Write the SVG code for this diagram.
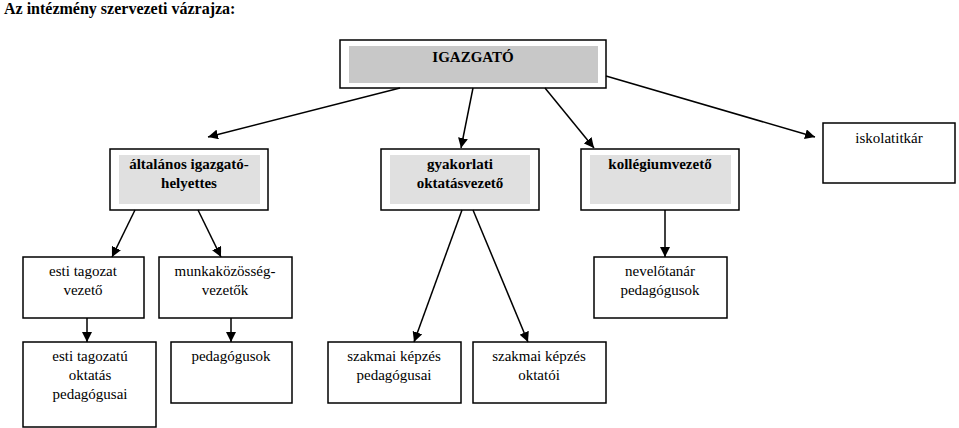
<svg xmlns="http://www.w3.org/2000/svg" width="959" height="428" viewBox="0 0 959 428">
<defs>
<marker id="ah" viewBox="0 0 10 10" refX="10" refY="5" markerWidth="10" markerHeight="10" markerUnits="userSpaceOnUse" orient="auto"><path d="M0,0 L10,5 L0,10 z" fill="#000"/></marker>
<style>
.b{fill:#fff;stroke:#000;stroke-width:1.5}
.g1{fill:#c8c8c8}
.g2{fill:#e0e0e0}
text{font-family:"Liberation Serif",serif;font-size:15px;text-anchor:middle;fill:#000}
.bd{font-weight:bold}
.c line{stroke:#000;stroke-width:1.5;marker-end:url(#ah)}
</style>
</defs>
<rect width="959" height="428" fill="#fff"/>
<text x="4" y="14" style="text-anchor:start;font-size:16px" class="bd">Az intézmény szervezeti vázrajza:</text>
<g id="igazgato"><rect class="b" x="340" y="40" width="266" height="48"/><rect class="g1" x="349" y="46" width="249" height="37"/><text class="bd" x="473" y="62">IGAZGATÓ</text></g>
<g id="altalanos"><rect class="b" x="110" y="149" width="158" height="61"/><rect class="g2" x="119" y="155" width="141" height="49"/><text class="bd" x="189" y="169">általános igazgató-</text><text class="bd" x="189" y="188">helyettes</text></g>
<g id="gyakorlati"><rect class="b" x="381" y="149" width="158" height="61"/><rect class="g2" x="390" y="155" width="140" height="49"/><text class="bd" x="460" y="169">gyakorlati</text><text class="bd" x="460" y="188">oktatásvezető</text></g>
<g id="kollegium"><rect class="b" x="581" y="149" width="158" height="61"/><rect class="g2" x="590" y="155" width="141" height="49"/><text class="bd" x="660" y="169">kollégiumvezető</text></g>
<g id="iskolatitkar"><rect class="b" x="823" y="123" width="132" height="60"/><text x="889" y="143">iskolatitkár</text></g>
<g id="esti"><rect class="b" x="23" y="257" width="121" height="61"/><text x="83" y="276">esti tagozat</text><text x="83" y="295">vezető</text></g>
<g id="munkakozosseg"><rect class="b" x="159" y="257" width="133" height="61"/><text x="225" y="276">munkaközösség-</text><text x="225" y="295">vezetők</text></g>
<g id="nevelotanar"><rect class="b" x="594" y="257" width="133" height="61"/><text x="660" y="276">nevelőtanár</text><text x="660" y="295">pedagógusok</text></g>
<g id="estiokt"><rect class="b" x="23" y="342" width="133" height="85"/><text x="90" y="361">esti tagozatú</text><text x="90" y="380">oktatás</text><text x="90" y="399">pedagógusai</text></g>
<g id="pedagogusok"><rect class="b" x="171" y="342" width="121" height="61"/><text x="231" y="361">pedagógusok</text></g>
<g id="szakped"><rect class="b" x="328" y="342" width="133" height="61"/><text x="394" y="361">szakmai képzés</text><text x="394" y="380">pedagógusai</text></g>
<g id="szakokt"><rect class="b" x="473" y="342" width="133" height="61"/><text x="539" y="361">szakmai képzés</text><text x="539" y="380">oktatói</text></g>
<g class="c" id="connectors">
<line x1="400" y1="88" x2="208" y2="137"/>
<line x1="473" y1="88" x2="461" y2="148"/>
<line x1="545" y1="88" x2="594" y2="148"/>
<line x1="606" y1="76" x2="815" y2="137"/>
<line x1="135" y1="210" x2="112" y2="257"/>
<line x1="198" y1="210" x2="221" y2="257"/>
<line x1="665" y1="210" x2="665" y2="257"/>
<line x1="87" y1="318" x2="87" y2="342"/>
<line x1="231" y1="318" x2="231" y2="342"/>
<line x1="462" y1="210" x2="414" y2="342"/>
<line x1="473" y1="210" x2="528" y2="342"/>
</g>
</svg>
